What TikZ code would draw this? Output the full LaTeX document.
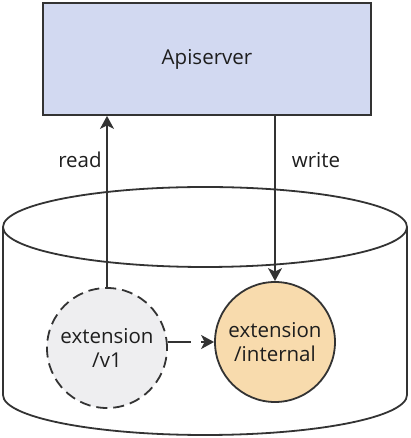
\documentclass[tikz,border=0pt]{standalone}
\usepackage{fontspec}
\setmainfont{Open Sans}
\usetikzlibrary{arrows.meta}
\definecolor{apifill}{HTML}{D2D9F1}
\definecolor{intfill}{HTML}{F8DBAD}
\definecolor{v1fill}{HTML}{EEEEF0}
\definecolor{edge}{HTML}{333333}
\definecolor{txt}{HTML}{1E1E1E}
\begin{document}
\begin{tikzpicture}[x=1pt,y=1pt,
  line width=1.8pt, draw=edge,
  lbl/.style={font=\fontsize{20.5}{24}\selectfont, text=txt, align=center},
  circ/.style={circle, draw=edge, minimum size=120pt, inner sep=0pt, lbl},
  arr/.style={draw=edge, -{Stealth[length=13pt,width=14pt,inset=3.5pt]}}]
\useasboundingbox (0,0) rectangle (410,438);
% cylinder
\draw[edge] (3,211) -- (3,43) arc[start angle=180, end angle=360, x radius=202, y radius=40] -- (407,211);
\draw[edge] (205,211) ellipse[x radius=202, y radius=40];
% apiserver
\node[draw=edge, fill=apifill, minimum width=328pt, minimum height=112pt, inner sep=0pt, lbl] (api) at (207,379) {Apiserver};
% circles
\node[circ, fill=v1fill, dash pattern=on 11pt off 6pt] (v1) at (107,90) {extension\\/v1};
\node[circ, fill=intfill] (int) at (275,96) {extension\\/internal};
% arrows
\draw[arr] (v1.north) -- (v1.north |- api.south);
\draw[arr] (int.north |- api.south) -- (int.north);
\draw[arr, dash pattern=on 23pt off 10pt] (int.west -| v1.east) -- (int.west);
% labels
\node[lbl] (read) at (80,278) {read};
\node[lbl] (write) at (316,278) {write};
\end{tikzpicture}
\end{document}
